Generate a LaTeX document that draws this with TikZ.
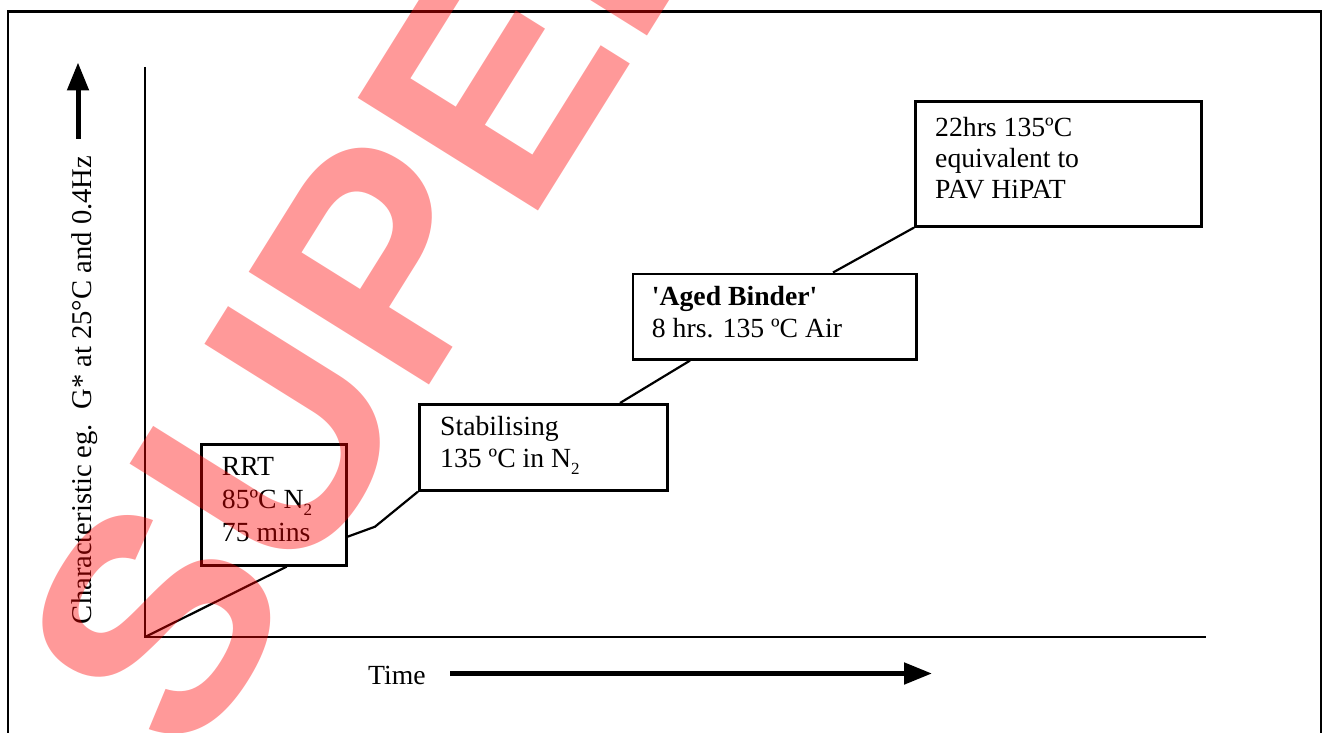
\documentclass[tikz,border=0pt]{standalone}
\usepackage{fontspec}
\setmainfont{Liberation Serif}[Ligatures=TeXOff]
\newfontfamily\wmfont{Liberation Sans}
\usetikzlibrary{arrows.meta,calc}
\newcommand\mysub[1]{\raisebox{-7pt}{\fontsize{17pt}{17pt}\selectfont #1}}
\begin{document}
\begin{tikzpicture}[x=1pt,y=-1pt,
  box/.style={draw=black, line width=2.6pt, fill=white, rectangle, inner sep=0pt, anchor=north west},
  boxtext/.style={anchor=north west, inner sep=0pt, align=left, font=\fontsize{27.7pt}{#1}\selectfont},
  link/.style={line width=2.2pt, line join=miter},
  axis/.style={line width=2.6pt},
  bigarrow/.style={line width=5pt, -{Triangle[length=28pt,width=21pt]}},
]
\useasboundingbox (0,0) rectangle (1323,733);
\clip (0,0) rectangle (1323,733);
\fill[white] (0,0) rectangle (1323,733);
% frame
\draw[line width=2.2pt] (8,11.5) rectangle (1321,780);

% axes
\coordinate (origin) at (145,637);
\coordinate (ytop) at (145,67);
\coordinate (xend) at (1206,637);
\draw[axis] (ytop) -- (origin) -- (xend);

% axis arrows and labels
\coordinate (ya0) at (78,139);
\coordinate (ya1) at (78,62.5);
\draw[bigarrow] (ya0) -- (ya1);
\node[rotate=90, anchor=base, inner sep=0pt, font=\fontsize{28.6pt}{34pt}\selectfont] (ylab) at (91.5,390) {Characteristic eg.\ \ G* at 25°C and 0.4Hz};

\node[anchor=base west, inner sep=0pt, font=\fontsize{27.7pt}{32pt}\selectfont] (tlab) at (368,684) {Time};
\coordinate (ta0) at (450,673.5);
\coordinate (ta1) at (932,673.5);
\draw[bigarrow] (ta0) -- (ta1);

% boxes
\node[box, minimum width=145pt, minimum height=121pt] (rrt) at (200,443) {};
\node[box, minimum width=248pt, minimum height=86pt] (stab) at (418,403) {};
\node[box, minimum width=283.5pt, minimum height=85.5pt] (aged) at (631.5,272.5) {};
\node[box, minimum width=286pt, minimum height=125pt] (hipat) at (914,100) {};

% connectors
\coordinate (k1) at ($(rrt.south west)+(86.7,0)$);
\coordinate (k2) at ($(rrt.north east)+(0,93.7)$);
\coordinate (k3) at (375,526.7);
\coordinate (k4) at ($(stab.north west)+(202,0)$);
\coordinate (k5) at ($(aged.south west)+(58.5,0)$);
\coordinate (k6) at ($(aged.north west)+(201.5,0)$);
\draw[link] (origin) -- (k1);
\draw[link] (k2) -- (k3) -- (stab.south west);
\draw[link] (k4) -- (k5);
\draw[link] (k6) -- (hipat.south west);

% box texts
\node[boxtext=33pt] (rrtT) at ($(rrt.north west)+(21.7,8.9)$) {\strut RRT\\85ºC N\mysub{2}\\75 mins};
\node[boxtext=32pt] (stabT) at ($(stab.north west)+(22,9.6)$) {\strut Stabilising\\135 ºC in N\mysub{2}};
\node[boxtext=32.3pt] (agedT) at ($(aged.north west)+(20.2,9.9)$) {\strut\textbf{'Aged Binder'}\\8 hrs. 135 ºC Air};
\node[boxtext=30.7pt] (hipatT) at ($(hipat.north west)+(21,15.2)$) {\strut 22hrs 135ºC\\equivalent to\\PAV HiPAT};

% watermark
\node[anchor=base west, inner sep=0pt, rotate=58, text=red, text opacity=0.4, font=\wmfont\bfseries\fontsize{309pt}{309pt}\selectfont] (wm) at (191,767) {SUPERSEDED};
\end{tikzpicture}
\end{document}
